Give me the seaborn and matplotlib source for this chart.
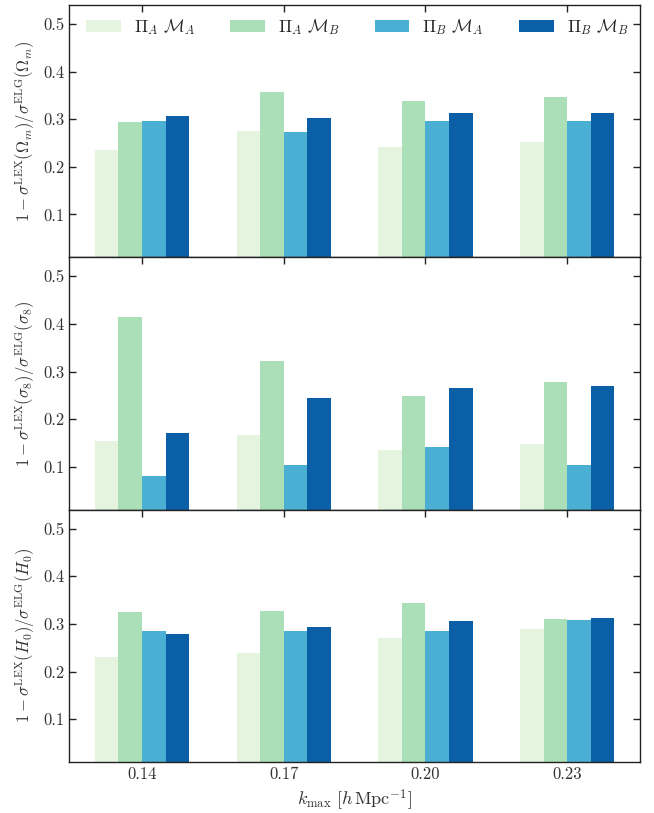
import numpy as np
import pandas as pd
import matplotlib
matplotlib.use("Agg")
import matplotlib.pyplot as plt
import seaborn as sns

sns.set_style("ticks")
plt.rcParams.update({
    "font.family": "serif",
    "font.serif": ["cmr10", "DejaVu Serif"],
    "mathtext.fontset": "cm",
    "axes.formatter.use_mathtext": True,
    "axes.edgecolor": "#222222",
    "axes.linewidth": 1.0,
    "xtick.color": "#222222",
    "ytick.color": "#222222",
    "xtick.labelcolor": "#333333",
    "ytick.labelcolor": "#333333",
})

kmax = ["0.14", "0.17", "0.20", "0.23"]
series = [r"$\Pi_A\ \mathcal{M}_A$", r"$\Pi_A\ \mathcal{M}_B$",
          r"$\Pi_B\ \mathcal{M}_A$", r"$\Pi_B\ \mathcal{M}_B$"]
colors = ["#e4f4df", "#abdfb7", "#4bafd3", "#0a5fa6"]

# rows: series, cols: kmax
omega_m = [[0.236, 0.276, 0.242, 0.253],
           [0.295, 0.358, 0.339, 0.347],
           [0.297, 0.272, 0.297, 0.297],
           [0.307, 0.303, 0.312, 0.312]]
sigma_8 = [[0.155, 0.167, 0.136, 0.148],
           [0.415, 0.323, 0.249, 0.279],
           [0.081, 0.104, 0.142, 0.104],
           [0.171, 0.245, 0.266, 0.270]]
h0 = [[0.230, 0.239, 0.270, 0.289],
      [0.325, 0.327, 0.344, 0.310],
      [0.285, 0.285, 0.285, 0.308],
      [0.279, 0.293, 0.306, 0.312]]

ylabels = [r"$1-\sigma^{\rm LEX}(\Omega_m)/\sigma^{\rm ELG}(\Omega_m)$",
           r"$1-\sigma^{\rm LEX}(\sigma_8)/\sigma^{\rm ELG}(\sigma_8)$",
           r"$1-\sigma^{\rm LEX}(H_0)/\sigma^{\rm ELG}(H_0)$"]
xlabel = r"$k_{\rm max}\ [h\,{\rm Mpc}^{-1}]$"


def to_df(vals):
    rows = []
    for s, row in zip(series, vals):
        for k, v in zip(kmax, row):
            rows.append({"kmax": k, "series": s, "value": v})
    return pd.DataFrame(rows)


fig, axes = plt.subplots(3, 1, figsize=(6.54, 8.13), dpi=100, sharex=True)
fig.subplots_adjust(left=0.1055, right=0.979, top=0.994, bottom=0.0627, hspace=0)

for i, (ax, vals, yl) in enumerate(zip(axes, [omega_m, sigma_8, h0], ylabels)):
    df = to_df(vals)
    sns.barplot(data=df, x="kmax", y="value", hue="series", order=kmax,
                hue_order=series, palette=colors, saturation=1, width=0.667,
                gap=0, errorbar=None, ax=ax, legend=(i == 0), linewidth=0)
    ax.set_ylim(0.01, 0.54)
    ax.set_xlim(-0.516, 3.516)
    ax.set_yticks([0.1, 0.2, 0.3, 0.4, 0.5])
    ax.set_yticklabels(["0.1", "0.2", "0.3", "0.4", "0.5"])
    ax.set_ylabel(yl, fontsize=12, color="#333333", labelpad=4)
    ax.set_xlabel("")
    ax.tick_params(direction="in", top=True, right=True, length=5, width=1,
                   labelsize=12)
    for sp in ax.spines.values():
        sp.set_visible(True)
    if i == 0:
        ax.legend(loc="center", ncol=4, frameon=False, fontsize=12.5,
                  handlelength=2.0, handleheight=0.7, handletextpad=0.75,
                  columnspacing=2.0, bbox_to_anchor=(0.505, 0.913))
    if i < 2:
        ax.tick_params(labelbottom=False)

axes[-1].set_xlabel(xlabel, fontsize=13, color="#333333")
fig.align_ylabels(axes)
fig.savefig("out.png", dpi=100)
